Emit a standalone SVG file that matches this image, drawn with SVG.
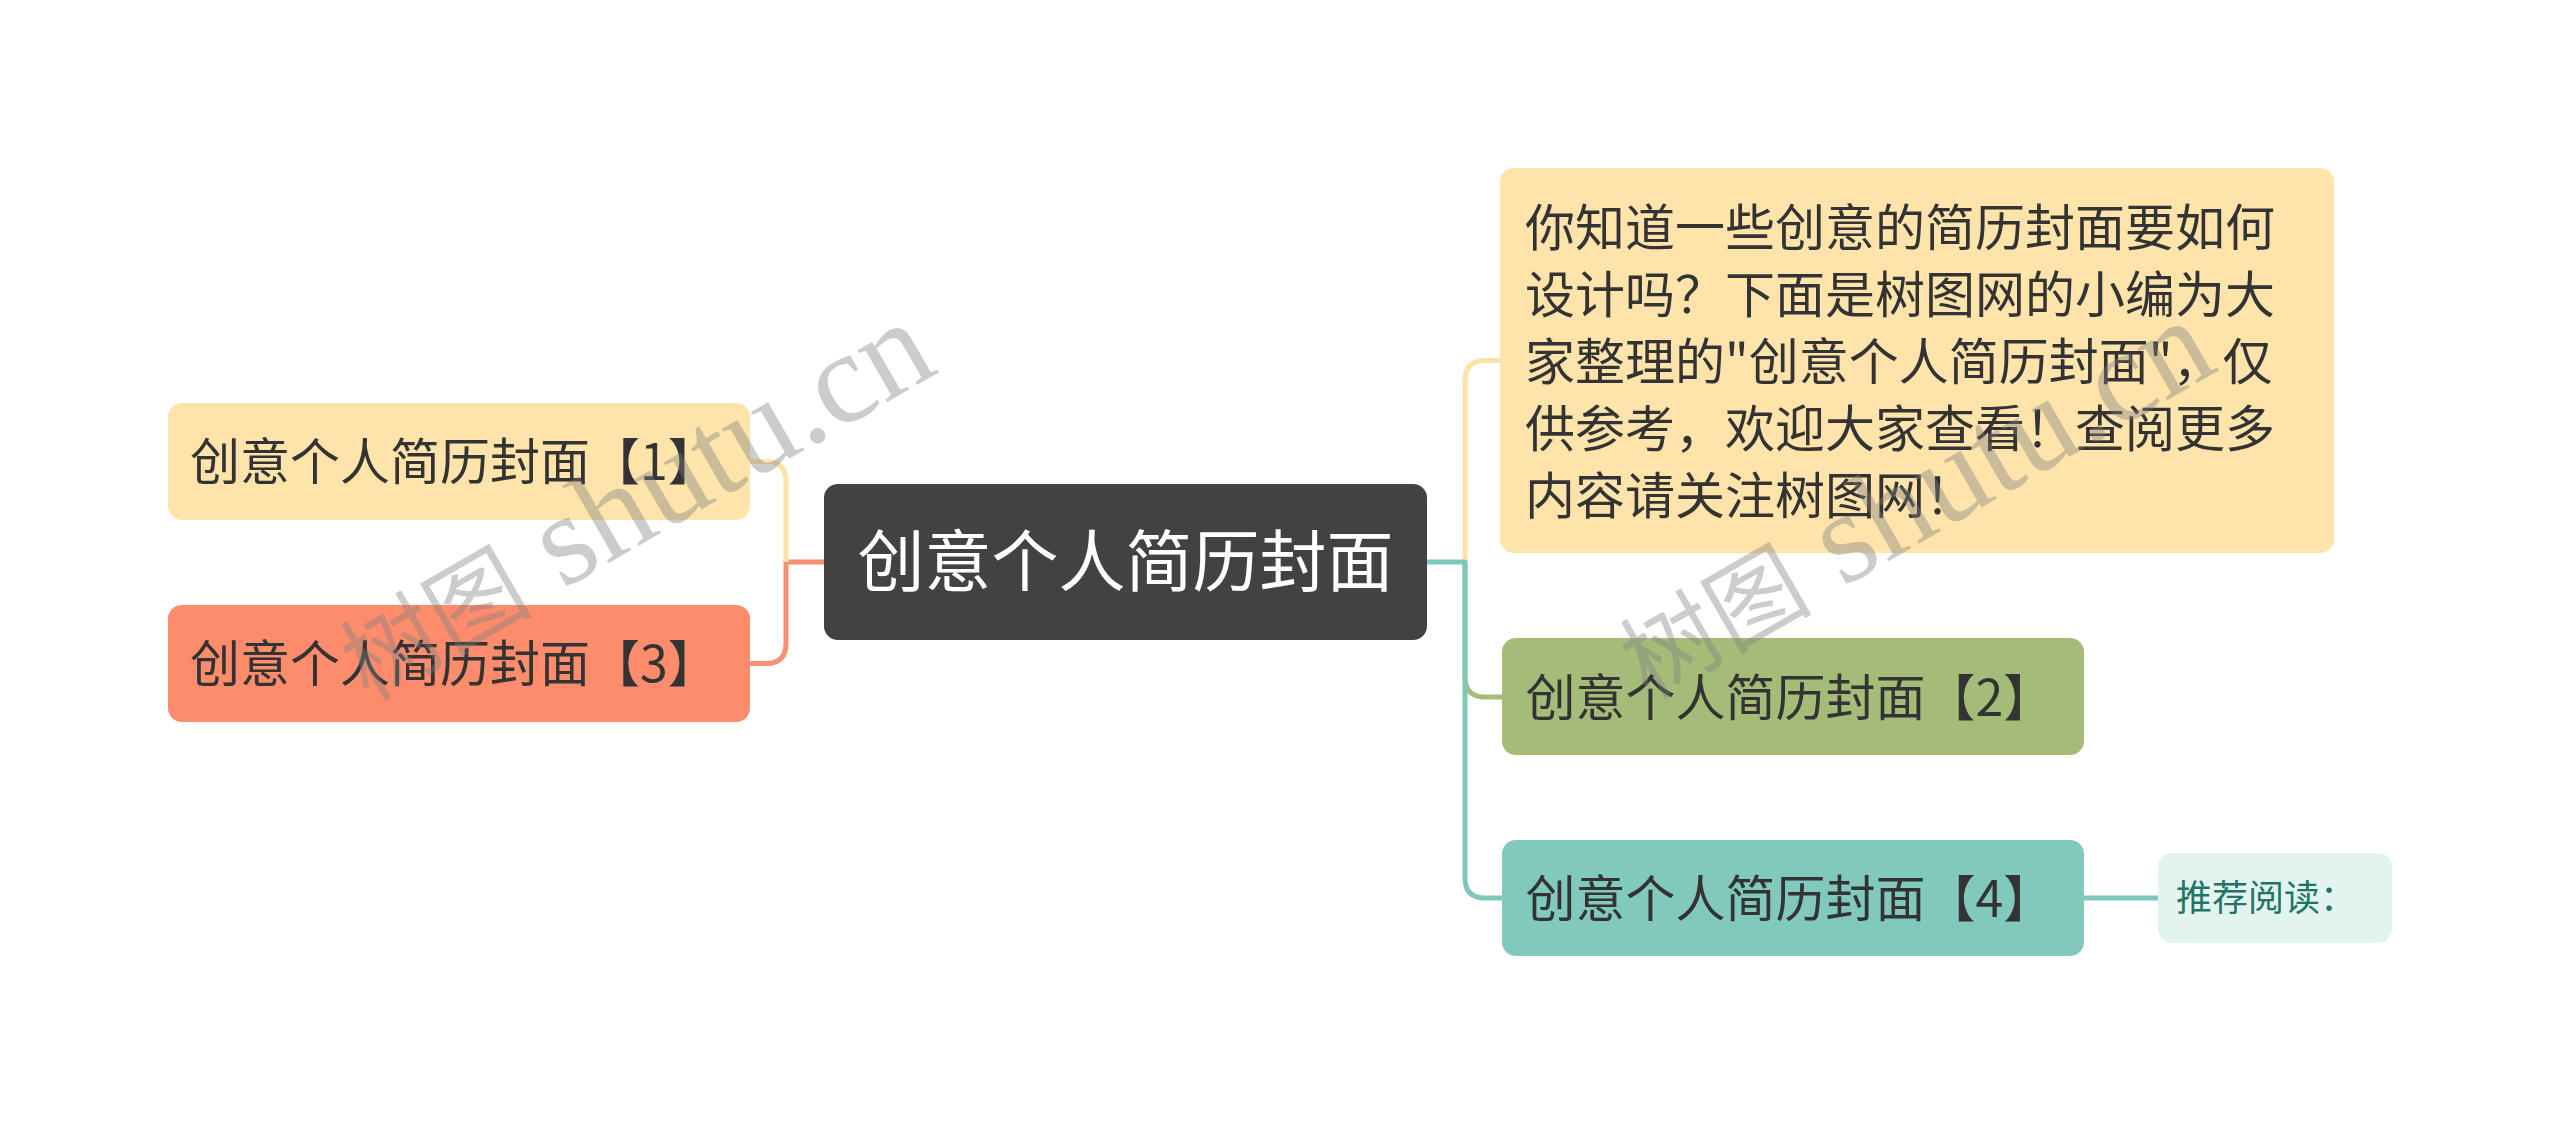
<svg xmlns="http://www.w3.org/2000/svg" width="2560" height="1125" viewBox="0 0 2560 1125">
<style>
.t{font-family:"Noto Sans CJK SC","Noto Sans",sans-serif;fill:#333333;font-size:50px}
.c{fill:none;stroke-width:5;stroke-linejoin:round}
.wm{fill:#808080;fill-opacity:0.4}
.wmc{font-family:"Noto Sans CJK SC",sans-serif;font-size:96px}
.wml{font-family:"Liberation Serif",serif;font-size:130px}
</style>
<rect width="2560" height="1125" fill="#ffffff"/>
<g id="connectors">
<path class="c" stroke="#F69173" d="M824 562 H786 V643.5 Q786 663.5 766 663.5 H750"/>
<path class="c" stroke="#FDE3A8" d="M786 562 V481.5 Q786 461.5 766 461.5 H750"/>
<path class="c" stroke="#FDE3A8" d="M1465 562 V380.5 Q1465 360.5 1485 360.5 H1500"/>
<path class="c" stroke="#A6BC78" d="M1465 562 V677 Q1465 697 1485 697 H1502"/>
<path class="c" stroke="#7FC8B9" d="M1427 562 H1465 V878 Q1465 898 1485 898 H1502"/>
<path class="c" stroke="#7FC8B9" d="M2084 898 H2158"/>
</g>
<g id="center">
<rect x="824" y="484" width="603" height="156" rx="14" fill="#424242"/>
<text class="t" x="1125.5" y="586" text-anchor="middle" style="font-size:67px;fill:#ffffff">创意个人简历封面</text>
</g>
<g id="node1">
<rect x="168" y="403" width="582" height="117" rx="14" fill="#FEE4AB"/>
<text class="t" x="190" y="480">创意个人简历封面【1】</text>
</g>
<g id="node3">
<rect x="168" y="605" width="582" height="117" rx="14" fill="#FC8C6C"/>
<text class="t" x="190" y="682">创意个人简历封面【3】</text>
</g>
<g id="desc">
<rect x="1500" y="168" width="834" height="385" rx="14" fill="#FEE4AB"/>
<text class="t" x="1525" y="245.5">你知道一些创意的简历封面要如何</text>
<text class="t" x="1525" y="312.6">设计吗？下面是树图网的小编为大</text>
<text class="t" x="1525" y="379.7">家整理的"创意个人简历封面"，仅</text>
<text class="t" x="1525" y="446.8">供参考，欢迎大家查看！查阅更多</text>
<text class="t" x="1525" y="514">内容请关注树图网！</text>
</g>
<g id="node2">
<rect x="1502" y="638" width="582" height="117" rx="14" fill="#A5BC78"/>
<text class="t" x="1525.5" y="716">创意个人简历封面【2】</text>
</g>
<g id="node4">
<rect x="1502" y="840" width="582" height="116" rx="14" fill="#81C9BC"/>
<text class="t" x="1525.5" y="917">创意个人简历封面【4】</text>
</g>
<g id="recommend">
<rect x="2158" y="853" width="234" height="90" rx="14" fill="#E3F4F0"/>
<text class="t" x="2176" y="911" style="font-size:36px;fill:#1F7664">推荐阅读：</text>
</g>
<g id="watermark">
<text class="wm" x="368" y="702" transform="rotate(-30 368 702)"><tspan class="wmc">树图</tspan><tspan class="wml"> shutu.cn</tspan></text>
<text class="wm" x="1648" y="700" transform="rotate(-30 1648 700)"><tspan class="wmc">树图</tspan><tspan class="wml"> shutu.cn</tspan></text>
</g>
</svg>
